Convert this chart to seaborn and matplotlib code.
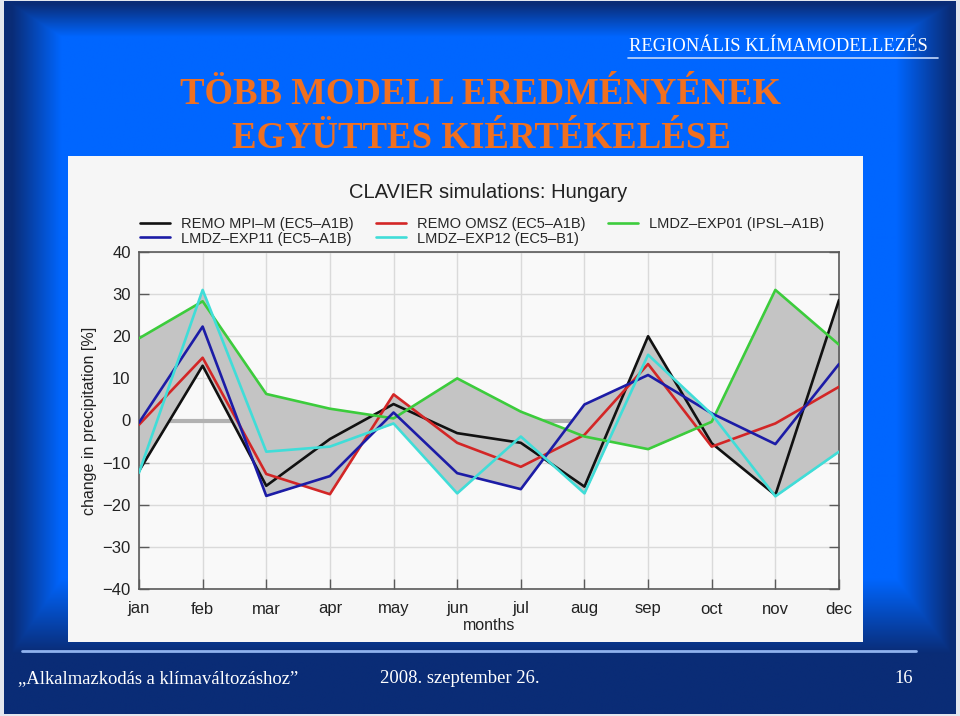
"""
Slide: CLAVIER precipitation change simulations for Hungary
"""
import numpy as np
import pandas as pd

import matplotlib
matplotlib.use('Agg')
import matplotlib.pyplot as plt
from matplotlib.patches import Rectangle
import seaborn as sns

# data (change in precipitation, %)
months = ['jan', 'feb', 'mar', 'apr', 'may', 'jun', 'jul', 'aug', 'sep', 'oct', 'nov', 'dec']
remo_mpi = [-12.0, 13.0, -15.5, -4.4, 3.9, -3.0, -5.3, -15.7, 20.0, -5.4, -17.7, 28.6]
remo_omsz = [-1.0, 14.9, -12.7, -17.5, 6.2, -5.3, -11.0, -3.4, 13.4, -6.2, -0.7, 8.0]
lmdz_exp01 = [19.5, 28.3, 6.3, 2.8, 0.5, 10.0, 2.1, -3.8, -6.8, -0.3, 31.0, 18.0]
lmdz_exp11 = [-0.5, 22.3, -17.9, -13.2, 1.9, -12.5, -16.3, 3.8, 10.8, 1.7, -5.6, 13.4]
lmdz_exp12 = [-12.4, 31.0, -7.4, -6.2, -0.7, -17.3, -3.8, -17.3, 15.6, 1.5, -18.0, -7.4]

model_names = ['REMO MPI–M (EC5–A1B)', 'REMO OMSZ (EC5–A1B)', 'LMDZ–EXP01 (IPSL–A1B)',
               'LMDZ–EXP11 (EC5–A1B)', 'LMDZ–EXP12 (EC5–B1)']
model_colors = ['#111111', '#d32626', '#3ccc3c', '#1c1ca6', '#40ddd8']
yticks = [-40, -30, -20, -10, 0, 10, 20, 30, 40]

series = [remo_mpi, remo_omsz, lmdz_exp01, lmdz_exp11, lmdz_exp12]
df = pd.DataFrame({
    'month': np.tile(np.arange(len(months)), len(series)),
    'change': np.concatenate(series),
    'model': np.repeat(model_names, len(months)),
})

sns.set_theme(style='whitegrid')
plt.rcParams['font.family'] = ['Liberation Sans', 'DejaVu Sans']

W, H = 960, 716
fig = plt.figure(figsize=(W / 100, H / 100), dpi=100, facecolor='#e4e7ee')

# slide background (blue with darker edges), pixel coordinates
bg = fig.add_axes([0, 0, 1, 1])
bg.set_xlim(0, W)
bg.set_ylim(H, 0)
bg.axis('off')
yy, xx = np.mgrid[0:H, 0:W] + 0.5
d = np.maximum.reduce([
    np.clip((58 - xx) / 50, 0, 1),
    np.clip((xx - 900) / 55, 0, 1),
    np.clip((36 - yy) / 33, 0, 1),
    np.clip((yy - 580) / 75, 0, 1),
])
bright = np.array([0, 102, 255]) / 255
dark = np.array([10, 44, 118]) / 255
img = bright * (1 - d[..., None]) + dark * d[..., None]
bg.imshow(img, extent=(4, 956, 714, 1), aspect='auto', zorder=0)

serif = ['Liberation Serif', 'DejaVu Serif']
bg.text(928, 51, 'REGIONÁLIS KLÍMAMODELLEZÉS', ha='right', va='baseline',
        color='white', fontsize=13.3, family=serif)
bg.plot([628, 938], [58, 58], color='#c4d8fa', lw=1.2)
bg.text(480, 104, 'TÖBB MODELL EREDMÉNYÉNEK', ha='center', va='baseline',
        color='#f07020', fontsize=26.5, fontweight='bold', family=serif)
bg.text(481, 148, 'EGYÜTTES KIÉRTÉKELÉSE', ha='center', va='baseline',
        color='#f07020', fontsize=26.5, fontweight='bold', family=serif)

bg.plot([22, 916], [651, 651], color='#8fb2ee', lw=2)
bg.text(18, 683, '„Alkalmazkodás a klímaváltozáshoz”', ha='left', va='baseline',
        color='white', fontsize=13.4, family=serif)
bg.text(380, 683, '2008. szeptember 26.', ha='left', va='baseline',
        color='white', fontsize=13.4, family=serif)
bg.text(913, 683, '16', ha='right', va='baseline',
        color='white', fontsize=13.4, family=serif)

# white picture panel
bg.add_patch(Rectangle((68, 156), 795, 486, facecolor='#f6f6f6', edgecolor='none', zorder=1))
bg.text(488, 192, 'CLAVIER simulations: Hungary', ha='center', va='center',
        fontsize=14.5, color='#222222', zorder=2)

# chart
ax = fig.add_axes([139 / W, 1 - 589 / H, 700 / W, 337 / H])
ax.set_facecolor('#f9f9f9')

x = np.arange(len(months))
# envelope: union of the areas between every pair of models
for i in range(len(series)):
    for j in range(i + 1, len(series)):
        ax.fill_between(x, series[i], series[j], color='#c4c4c4', lw=0, zorder=1.6)
ax.axhline(0, color='#b2b2b2', lw=3, zorder=1.5)

handles = []
for name, color in zip(model_names, model_colors):
    sns.lineplot(data=df[df['model'] == name], x='month', y='change', color=color,
                 lw=1.9, errorbar=None, legend=False, ax=ax, zorder=3)
    handles.append(ax.lines[-1])

order = [0, 3, 1, 4, 2]
ax.legend([handles[k] for k in order], [model_names[k] for k in order],
          ncol=3, loc='upper left', bbox_to_anchor=(134 / W, 1 - 211 / H),
          bbox_transform=fig.transFigure, frameon=False, fontsize=10.5,
          handlelength=2.05, handletextpad=0.8, columnspacing=1.5,
          labelspacing=0.05, borderaxespad=0)

ax.set_xlim(0, len(months) - 1)
ax.set_ylim(-40, 40)
ax.set_xticks(x)
ax.set_xticklabels(months)
ax.set_yticks(yticks)
ax.grid(True, color='#dadada', lw=1)
ax.set_axisbelow(True)
for s in ax.spines.values():
    s.set_color('#5a5a5a')
    s.set_linewidth(1.2)
    s.set_visible(True)
ax.tick_params(axis='both', direction='in', length=7, width=1, color='#5a5a5a',
               labelsize=12, labelcolor='#222222', right=True, left=True, bottom=True)
ax.tick_params(axis='x', pad=9)
ax.tick_params(axis='y', pad=6)
ax.set_xlabel('months', fontsize=11.5, color='#222222', labelpad=1)
ax.set_ylabel('change in precipitation [%]', fontsize=11.5, color='#222222', labelpad=4)

fig.savefig('out.png', dpi=100, facecolor=fig.get_facecolor())
plt.close(fig)
